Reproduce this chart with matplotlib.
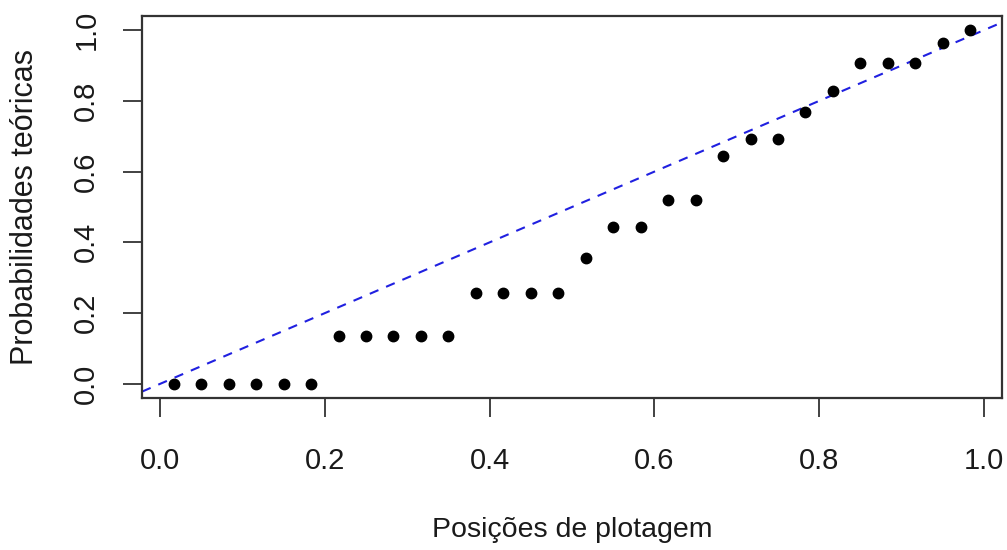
import matplotlib
matplotlib.use("Agg")
import matplotlib.pyplot as plt

plt.rcParams['font.family'] = ['Liberation Sans', 'DejaVu Sans']

# Plotting positions (x) and theoretical probabilities (y)
posicoes = [0.0167, 0.0500, 0.0833, 0.1167, 0.1500, 0.1833,
            0.2167, 0.2500, 0.2833, 0.3167, 0.3500,
            0.3833, 0.4167, 0.4500, 0.4833,
            0.5167, 0.5500, 0.5833, 0.6167, 0.6500,
            0.6833, 0.7167, 0.7500, 0.7833, 0.8167,
            0.8500, 0.8833, 0.9167, 0.9500, 0.9833]
probabilidades = [0.0, 0.0, 0.0, 0.0, 0.0, 0.0,
                  0.136, 0.136, 0.136, 0.136, 0.136,
                  0.2555, 0.2555, 0.2555, 0.2555,
                  0.357, 0.444, 0.444, 0.521, 0.521,
                  0.643, 0.692, 0.692, 0.770, 0.829,
                  0.906, 0.906, 0.906, 0.965, 1.0]
ticks = [0.0, 0.2, 0.4, 0.6, 0.8, 1.0]
tick_labels = ["0.0", "0.2", "0.4", "0.6", "0.8", "1.0"]
ref_line = [0.0, 1.0]

W, H = 1007, 550
fig = plt.figure(figsize=(W / 100, H / 100), dpi=100)
L, R, T, B = 142, 1002, 16, 398
ax = fig.add_axes([L / W, 1 - B / H, (R - L) / W, (B - T) / H])

ax.plot(posicoes, probabilidades, 'o', color='black', markersize=7.5, zorder=3)
ax.axline((ref_line[0], ref_line[0]), (ref_line[1], ref_line[1]),
          color='#2020e0', lw=1.5, dashes=(4.5, 4), zorder=2)

rng = max(posicoes) - min(posicoes)
ax.set_xlim(min(posicoes) - 0.04 * rng, max(posicoes) + 0.04 * rng)
ax.set_ylim(-0.04, 1.04)

ax.set_xticks(ticks)
ax.set_xticklabels(tick_labels)
ax.set_yticks(ticks)
ax.set_yticklabels(tick_labels, rotation=90, va='center')

for s in ax.spines.values():
    s.set_linewidth(1.6)
    s.set_color('#333333')

ax.tick_params(axis='both', direction='out', length=14, width=1.3,
               color='#333333', labelsize=21, labelcolor='#1a1a1a')
ax.tick_params(axis='x', pad=21)
ax.tick_params(axis='y', pad=16)

ax.set_xlabel("Posições de plotagem", fontsize=20.5, color='#1a1a1a', va='center')
ax.xaxis.set_label_coords(0.5, (B - 530) / (B - T))
ax.set_ylabel("Probabilidades teóricas", fontsize=22, color='#1a1a1a', va='center')
ax.yaxis.set_label_coords((25 - L) / (R - L), 0.5)

fig.savefig("out.png", dpi=100)
